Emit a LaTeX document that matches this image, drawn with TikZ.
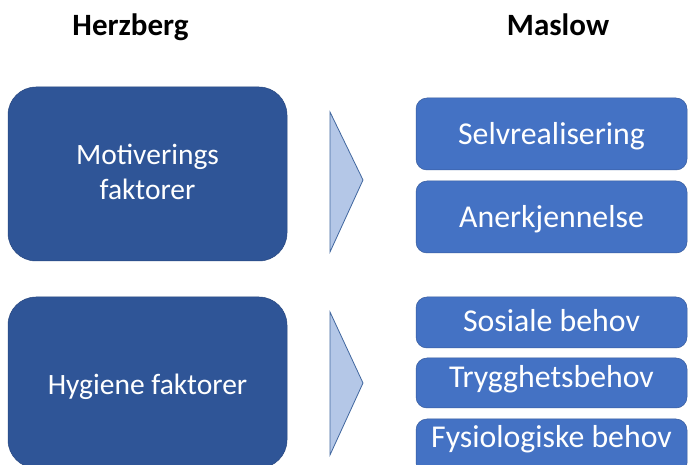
\documentclass[tikz,border=0pt]{standalone}
\usepackage{fontspec}
\setmainfont{Carlito}
\definecolor{darkblue}{HTML}{2F5597}
\definecolor{midblue}{HTML}{4472C4}
\definecolor{paleblue}{HTML}{B4C7E7}
\definecolor{edgeblue}{HTML}{41679F}
\begin{document}
\begin{tikzpicture}[x=1pt,y=-1pt,
  factorbox/.style={fill=darkblue, draw=darkblue!85!black, line width=0.5pt,
    rounded corners=28pt},
  needbox/.style={fill=midblue, draw=midblue!80!black, line width=0.5pt,
    rounded corners=11pt},
  chevron/.style={fill=paleblue, draw=edgeblue, line width=0.8pt, line join=miter},
  header/.style={anchor=base, font=\bfseries\fontsize{31}{37}\selectfont, text=black, inner sep=0pt},
  factortext/.style={anchor=base, font=\fontsize{29.5}{35}\selectfont, text=white, inner sep=0pt},
  needtext/.style={anchor=base, font=\fontsize{31.8}{38}\selectfont, text=white, inner sep=0pt}
]
\useasboundingbox (0,0) rectangle (689,465);
\clip (0,0) rectangle (689,465);
\fill[white] (0,0) rectangle (689,465);

% column headings
\node[header] (herzberg) at (130.5,36) {Herzberg};
\node[header] (maslow) at (558,36) {Maslow};

% Herzberg factors
\draw[factorbox] (8,87) rectangle (287,261);
\node[factortext] (motiv1) at (147.5,165) {Motiverings};
\node[factortext] (motiv2) at (147.5,200) {faktorer};
\draw[factorbox] (8,297) rectangle (287,468);
\node[factortext] (hygiene) at (147.5,395) {Hygiene faktorer};

% pointers between the columns
\draw[chevron] (330,112) -- (363,180) -- (330,252) -- cycle;
\draw[chevron] (330,312) -- (363,383) -- (330,455) -- cycle;

% Maslow levels
\draw[needbox] (416,98) rectangle (687,170);
\node[needtext] (selv) at (551.5,145) {Selvrealisering};
\draw[needbox] (416,181) rectangle (687,253);
\node[needtext] (anerk) at (551.5,228) {Anerkjennelse};
\draw[needbox] (416,297) rectangle (687,348);
\node[needtext] (sosial) at (551.5,332) {Sosiale behov};
\draw[needbox] (416,358) rectangle (687,408);
\node[needtext] (trygg) at (551.5,388) {Trygghetsbehov};
\draw[needbox] (416,419) rectangle (687,474);
\node[needtext] (fysio) at (551.5,447) {Fysiologiske behov};
\end{tikzpicture}
\end{document}
